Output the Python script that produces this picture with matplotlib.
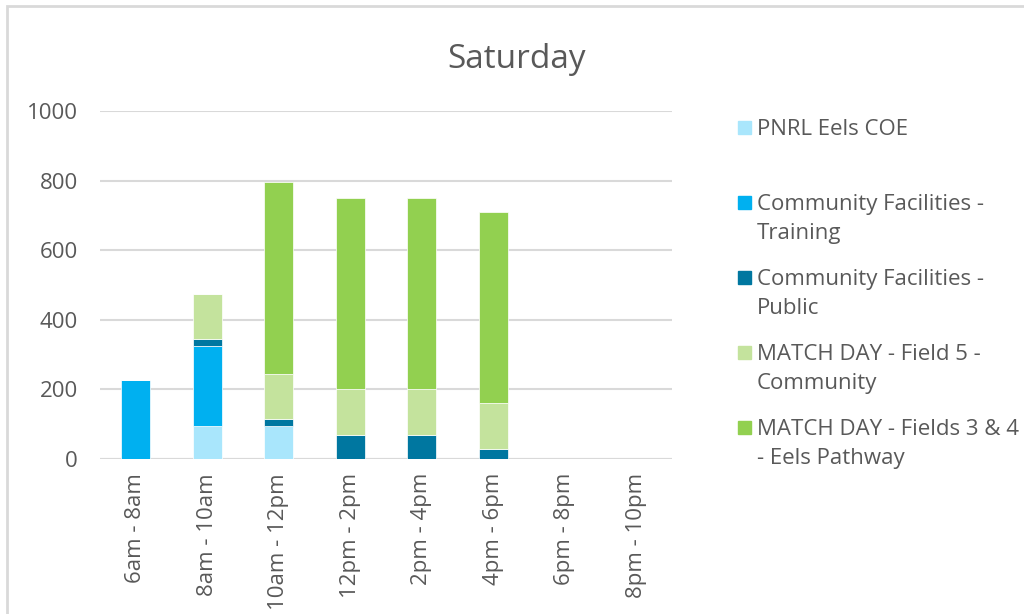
import numpy as np
import matplotlib.pyplot as plt
from matplotlib.patches import Rectangle

# données
slots = ['6am - 8am', '8am - 10am', '10am - 12pm', '12pm - 2pm',
         '2pm - 4pm', '4pm - 6pm', '6pm - 8pm', '8pm - 10pm']
pnrl = [0, 95, 95, 0, 0, 0, 0, 0]
training = [228, 230, 0, 0, 0, 0, 0, 0]
public = [0, 20, 20, 70, 70, 30, 0, 0]
field5 = [0, 130, 130, 130, 130, 130, 0, 0]
fields34 = [0, 0, 550, 550, 550, 550, 0, 0]

labels = ['PNRL Eels COE', 'Community Facilities -\nTraining',
          'Community Facilities -\nPublic', 'MATCH DAY - Field 5 -\nCommunity',
          'MATCH DAY - Fields 3 & 4\n- Eels Pathway']
colors = ['#A9E6FC', '#00B0F0', '#0077A0', '#C4E39D', '#92D050']
series = [pnrl, training, public, field5, fields34]

plt.rcParams['font.family'] = ['Open Sans', 'DejaVu Sans']
txt = '#595959'

fig = plt.figure(figsize=(10.24, 6.14), dpi=100)
ax = fig.add_axes([0.0977, 0.2524, 0.5586, 0.5668])

x = np.arange(len(slots))
bottom = np.zeros(len(slots))
for vals, c in zip(series, colors):
    ax.bar(x, vals, width=0.4, bottom=bottom, color=c, edgecolor='white', linewidth=0.5, zorder=3)
    bottom += np.array(vals)

ax.set_xlim(-0.5, len(slots) - 0.5)
ax.set_ylim(0, 1000)
ax.set_yticks(range(0, 1001, 200))
ax.yaxis.grid(True, color='#D9D9D9', linewidth=1.5, zorder=0)
for s in ax.spines.values():
    s.set_visible(False)
ax.axhline(0, color='#D9D9D9', linewidth=1.5, zorder=1)
ax.tick_params(length=0, labelsize=16, colors=txt)
ax.tick_params(axis='y', pad=16)
ax.tick_params(axis='x', pad=10)
ax.set_xticks(x)
ax.set_xticklabels(slots, rotation=90)

fig.text(0.505, 0.903, 'Saturday', ha='center', va='center', fontsize=24, color=txt)

# légende à droite
for i, (lab, c) in enumerate(zip(labels, colors)):
    y = 1 - (128 + 75 * i) / 614
    fig.add_artist(Rectangle((738 / 1024, y - 6 / 614), 13 / 1024, 13 / 614,
                             transform=fig.transFigure, color=c))
    fig.text(757 / 1024, y + 9 / 614, lab, ha='left', va='top', fontsize=16,
             color=txt, linespacing=1.5)

# cadre du graphique
fig.add_artist(Rectangle((7 / 1024, -0.1), 1.2, 1 - 6 / 614 + 0.1, transform=fig.transFigure,
                         fill=False, edgecolor='#D9D9D9', linewidth=2))

fig.savefig('out.png', dpi=100)
